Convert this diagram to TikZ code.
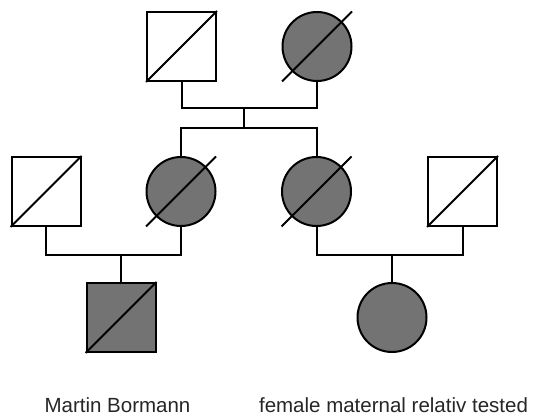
\documentclass[tikz,border=0pt]{standalone}
\usepackage{fontspec}
\setmainfont{Liberation Sans}
\usetikzlibrary{calc}
\definecolor{affgray}{RGB}{115,115,115}
\tikzset{
  x=1pt, y=1pt,
  line/.style={line width=2pt, line cap=rect},
  male/.style={draw, line width=2pt, rectangle, minimum size=69pt, inner sep=0pt, fill=white},
  female/.style={draw, line width=2pt, circle, minimum size=69pt, inner sep=0pt, fill=white},
  affected/.style={fill=affgray},
  lbl/.style={font=\fontsize{20.5}{24}\selectfont, anchor=base, text=black!85, inner sep=0pt}
}
\begin{document}
\begin{tikzpicture}
\useasboundingbox (0,0) rectangle (534,417);
% generation I
\node[male] (F1) at (181.5,370.5) {};
\node[female,affected] (M1) at (317,370.5) {};
% generation II
\node[male] (A) at (46,225.5) {};
\node[female,affected] (B) at (181,225.5) {};
\node[female,affected] (C) at (316.5,225.5) {};
\node[male] (D) at (462.5,225.5) {};
% generation III
\node[male,affected] (E) at (121,99.5) {};
\node[female,affected] (G) at (392,99.5) {};
% coordinates
\coordinate (m1) at (244,309);
\coordinate (s1) at (244,289);
\coordinate (m2) at (121,162);
\coordinate (m3) at (392,162);
% connectors
\draw[line] (F1.south) |- (m1) -| (M1.south);
\draw[line] (m1) -- (s1);
\draw[line] (B.north) |- (s1) -| (C.north);
\draw[line] (A.south) |- (m2) -| (B.south);
\draw[line] (m2) -- (E.north);
\draw[line] (C.south) |- (m3) -| (D.south);
\draw[line] (m3) -- (G.north);
% deceased slashes
\foreach \n in {F1,A,D,E}
  \draw[line width=2pt] (\n.south west) -- (\n.north east);
\foreach \n in {M1,B,C}
  \draw[line width=2pt] ($(\n.center)+(-35,-35)$) -- ($(\n.center)+(35,35)$);
% labels
\node[lbl] (t1) at (117.5,5) {Martin Bormann};
\node[lbl] (t2) at (393.5,5) {female maternal relativ tested};
\end{tikzpicture}
\end{document}
